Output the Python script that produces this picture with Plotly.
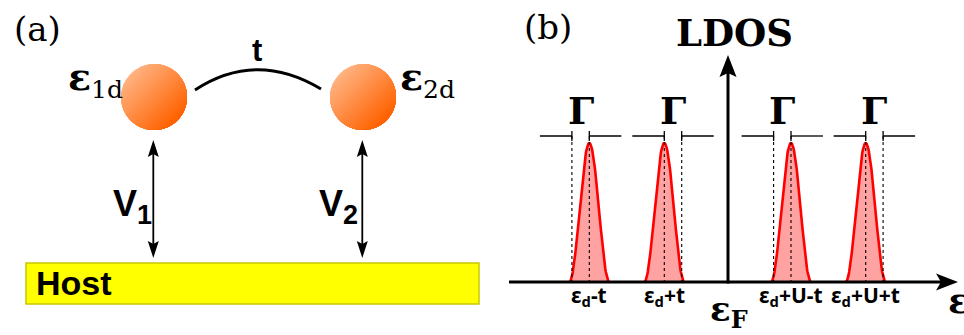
import numpy as np
import plotly.graph_objects as go

W, H = 964, 335

# ---------------- data (pixel-space schematic) ----------------
# panel (b): LDOS peaks
peak_pos = [589.3, 664.3, 791.0, 865.7]          # peak centres
peak_labels = ["ε<sub>d</sub>-t", "ε<sub>d</sub>+t", "ε<sub>d</sub>+U-t", "ε<sub>d</sub>+U+t"]
peak_side = [-1, 1, -1, 1]                        # side of the Γ marker
peak_height = 139.0
peak_halfbase = 20.0
gamma_width = 17.4
gamma_arm = 32.0
axis_y = 282.0
axis_x = 728.0

# panel (a): dots
dot_x = [154.0, 363.0]
dot_y = [97.0, 97.0]
dot_r = 33.0
dot_labels = ["ε<sub>1d</sub>", "ε<sub>2d</sub>"]
dot_label_x = [66.0, 398.0]
v_labels = ["V<sub>1</sub>", "V<sub>2</sub>"]
v_label_x = [111.0, 317.0]

SERIF = "DejaVu Serif"
SANS = "Liberation Sans"

fig = go.Figure()
shapes = []
ann = []

def text(x, y, s, size, family, bold=False, xanchor="center", yanchor="middle", color="black"):
    ann.append(dict(x=x, y=y, xref="x", yref="y", text=s, showarrow=False,
                    xanchor=xanchor, yanchor=yanchor,
                    font=dict(size=size, family=family, color=color,
                              weight="bold" if bold else "normal")))

def line(x0, y0, x1, y1, w=1.5, color="black", dash="solid"):
    shapes.append(dict(type="line", x0=x0, y0=y0, x1=x1, y1=y1, xref="x", yref="y",
                       line=dict(width=w, color=color, dash=dash)))

def path(d, fill="black", w=0, color="black"):
    shapes.append(dict(type="path", path=d, xref="x", yref="y", fillcolor=fill,
                       line=dict(width=w, color=color)))

# ---------------- panel (a) ----------------
# Host slab
shapes.append(dict(type="rect", x0=26, y0=263, x1=479, y1=304, xref="x", yref="y",
                   fillcolor="#ffff00", line=dict(color="#c8c800", width=1.5)))
text(34, 283, "Host", 34, SANS, bold=True, xanchor="left")

# hopping arc
shapes.append(dict(type="path", path="M195,90 Q256,50 321,89", xref="x", yref="y",
                   line=dict(color="black", width=3)))
text(257, 50, "t", 31, SANS, bold=True)

# gradient dots
light = np.array([255, 178, 128])
dark = np.array([255, 98, 0])
nb = 30
for cx, cy in zip(dot_x, dot_y):
    shapes.append(dict(type="circle", x0=cx - dot_r, x1=cx + dot_r, y0=cy - dot_r, y1=cy + dot_r,
                       xref="x", yref="y", fillcolor="rgb(%d,%d,%d)" % tuple(light),
                       line=dict(width=0)))
    th_d = np.pi / 4  # direction towards bottom-right (y down)
    for k in range(1, nb):
        s = -dot_r + 2 * dot_r * k / nb
        a = np.arccos(s / dot_r)
        ang = np.linspace(th_d - a, th_d + a, 40)
        px = cx + dot_r * np.cos(ang)
        py = cy + dot_r * np.sin(ang)
        d = "M" + " L".join("%.2f,%.2f" % (u, v) for u, v in zip(px, py)) + " Z"
        f = k / (nb - 1)
        c = light + (dark - light) * f
        path(d, fill="rgb(%d,%d,%d)" % tuple(c.astype(int)))

# labels near dots
for lx, lab in zip(dot_label_x, dot_labels):
    s = lab.replace("<sub>", "<sub><span style='font-family:DejaVu Serif;font-weight:normal;font-size:25px'>").replace("</sub>", "</span></sub>")
    text(lx, 79, s, 38, SERIF, bold=True, xanchor="left")

# double arrows V
for ax_, lx, lab in zip(dot_x, v_label_x, v_labels):
    ax_ = ax_ - 0.7
    line(ax_, 152, ax_, 246, w=1.8)
    path("M%.1f,140 L%.1f,157 L%.1f,154 L%.1f,157 Z" % (ax_, ax_ - 5.5, ax_, ax_ + 5.5))
    path("M%.1f,258 L%.1f,241 L%.1f,244 L%.1f,241 Z" % (ax_, ax_ - 5.5, ax_, ax_ + 5.5))
    s = lab.replace("<sub>", "<sub><span style='font-size:27px'>").replace("</sub>", "</span></sub>")
    text(lx, 206, s, 36, SANS, bold=True, xanchor="left")

text(37, 29, "(a)", 34, SERIF)

# ---------------- panel (b) ----------------
text(548, 27, "(b)", 34, SERIF)
text(734, 33, "LDOS", 37, SERIF, bold=True)

# peaks
for xc, lab, side in zip(peak_pos, peak_labels, peak_side):
    u = np.linspace(-1, 1, 81)
    shape = np.cos(np.pi * u / 2) ** 2
    xs = xc + peak_halfbase * u
    ys = axis_y - peak_height * shape
    fig.add_trace(go.Scatter(x=list(xs) + [xs[-1], xs[0]], y=list(ys) + [axis_y, axis_y],
                             fill="toself", fillcolor="rgba(255,70,70,0.5)", mode="none",
                             hoverinfo="skip", showlegend=False))
    fig.add_trace(go.Scatter(x=xs, y=ys, mode="lines", line=dict(color="#ff0000", width=2.6),
                             hoverinfo="skip", showlegend=False))
    xe = xc + side * gamma_width
    xl, xr = min(xc, xe), max(xc, xe)
    # dotted guides
    line(xc, 136, xc, axis_y, w=1.1, dash="dot")
    line(xe, 136, xe, axis_y, w=1.1, dash="dot")
    # Γ bracket
    line(xl - gamma_arm, 136, xl, 136, w=1.3)
    line(xr, 136, xr + gamma_arm, 136, w=1.3)
    line(xl, 131, xl, 141, w=1.3)
    line(xr, 131, xr, 141, w=1.3)
    text((xl + xr) / 2, 111, "Γ", 37, SERIF, bold=True)
    text(xc, 296, lab, 21, "Noto Sans", bold=True)

# axes
line(509, axis_y, 942, axis_y, w=3)
path("M958,%.1f L936,%.1f L941,%.1f L936,%.1f Z" % (axis_y, axis_y - 8.5, axis_y, axis_y + 8.5))
line(axis_x, axis_y + 1.5, axis_x, 72, w=3)
path("M%.1f,55 L%.1f,77 L%.1f,73 L%.1f,77 Z" % (axis_x, axis_x - 8.5, axis_x, axis_x + 8.5))

text(729, 311, "ε<sub>F</sub>", 34, SERIF, bold=True)
text(946, 300, "ε", 36, SERIF, bold=True, xanchor="left")

fig.update_layout(
    width=W, height=H, margin=dict(l=0, r=0, t=0, b=0),
    paper_bgcolor="white", plot_bgcolor="white",
    xaxis=dict(range=[0, W], visible=False, fixedrange=True),
    yaxis=dict(range=[H, 0], visible=False, fixedrange=True),
    shapes=shapes, annotations=ann, showlegend=False,
)
fig.write_html("out.html", config={"displayModeBar": False})
